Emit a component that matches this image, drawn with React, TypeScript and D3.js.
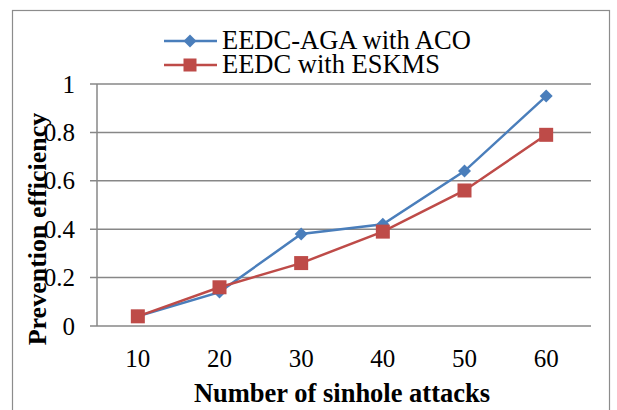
import React from "react";
import * as d3 from "d3";

const categories = ["10", "20", "30", "40", "50", "60"];
const seriesNames = ["EEDC-AGA with ACO", "EEDC with ESKMS"];
const acoValues = [0.04, 0.14, 0.38, 0.42, 0.64, 0.95];
const eskmsValues = [0.04, 0.16, 0.26, 0.39, 0.56, 0.79];
const yTicks = [0, 0.2, 0.4, 0.6, 0.8, 1];
const yTickLabels = ["0", "0.2", "0.4", "0.6", "0.8", "1"];

const W = 617, H = 410;
const font = "Liberation Serif, Times New Roman, Times, DejaVu Serif, serif";
const blue = "#4A7EBB";
const red = "#BE4B48";

export default function App() {
  const left = 97, right = 587, top = 84, bottom = 326;
  const x = d3.scaleBand<string>().domain(categories).range([left, right]);
  const y = d3.scaleLinear().domain([0, 1]).range([bottom, top]);
  const cx = (c: string) => (x(c) as number) + x.bandwidth() / 2;
  const line = d3.line<number>().x((_, i) => cx(categories[i])).y((d) => y(d));

  const diamond = (px: number, py: number, r = 6.5) =>
    `M${px},${py - r}L${px + r},${py}L${px},${py + r}L${px - r},${py}Z`;

  const ts = { fontFamily: font } as React.CSSProperties;

  return (
    <svg width={W} height={H} style={{ position: "absolute", left: 0, top: 0, fontFamily: font }}>
      <rect x={0} y={0} width={W} height={H} fill="#fff" />
      <rect x={12.5} y={10.5} width={597} height={420} fill="none" stroke="#8c8c8c" strokeWidth={1.2} />
      {yTicks.map((t, i) => (
        <g key={i}>
          <line x1={90} x2={591} y1={y(t)} y2={y(t)} stroke="#878787" strokeWidth={1.5} />
          <text x={75} y={y(t) + 8.5} textAnchor="end" style={ts} fontSize={25} fill="#000">
            {yTickLabels[i]}
          </text>
        </g>
      ))}
      <line x1={left} x2={left} y1={top} y2={bottom} stroke="#878787" strokeWidth={1.5} />
      {categories.map((c) => (
        <text key={c} x={cx(c)} y={367} textAnchor="middle" style={ts} fontSize={25} fill="#000">
          {c}
        </text>
      ))}
      <path d={line(acoValues) || ""} fill="none" stroke={blue} strokeWidth={2.5} />
      <path d={line(eskmsValues) || ""} fill="none" stroke={red} strokeWidth={2.5} />
      {acoValues.map((v, i) => (
        <path key={"a" + i} d={diamond(cx(categories[i]), y(v))} fill={blue} />
      ))}
      {eskmsValues.map((v, i) => (
        <rect key={"e" + i} x={cx(categories[i]) - 7} y={y(v) - 7} width={14} height={14} fill={red} />
      ))}
      {/* legend */}
      <line x1={164} x2={217} y1={41} y2={41} stroke={blue} strokeWidth={2.5} />
      <path d={diamond(190, 41)} fill={blue} />
      <text x={222} y={48.5} style={ts} fontSize={26.5} fill="#000">{seriesNames[0]}</text>
      <line x1={164} x2={217} y1={65} y2={65} stroke={red} strokeWidth={2.5} />
      <rect x={183.5} y={58.5} width={13} height={13} fill={red} />
      <text x={222} y={73} style={ts} fontSize={26.5} fill="#000">{seriesNames[1]}</text>
      {/* axis titles */}
      <text
        transform={`translate(46,229) rotate(-90)`}
        textAnchor="middle"
        style={ts}
        fontSize={26}
        fontWeight="bold"
        fill="#000"
      >
        Prevention efficiency
      </text>
      <text x={342} y={402} textAnchor="middle" style={ts} fontSize={26.5} fontWeight="bold" fill="#000">
        Number of sinhole attacks
      </text>
    </svg>
  );
}
